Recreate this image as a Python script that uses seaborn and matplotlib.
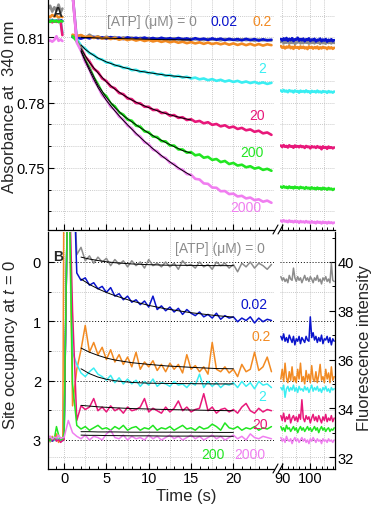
import numpy as np
import pandas as pd
import seaborn as sns
import matplotlib.pyplot as plt
from matplotlib.ticker import MultipleLocator, FixedLocator, NullFormatter
from matplotlib.lines import Line2D

sns.set_style("white")
plt.rcParams['font.family'] = ['Liberation Sans', 'DejaVu Sans']
plt.rcParams['mathtext.fontset'] = 'custom'
plt.rcParams['mathtext.it'] = 'Liberation Sans:italic'
plt.rcParams['mathtext.rm'] = 'Liberation Sans'

# ---------------- data ----------------
conc = ['0', '0.02', '0.2', '2', '20', '200', '2000']
colors = ['#8c8c8c', '#0a14cc', '#f28a22', '#3aeef2', '#e8187a', '#22e622', '#f07ef0']

# panel A : absorbance at 340 nm
t_pre = [-1.9, -1.65, -1.4, -1.15, -0.9, -0.65, -0.4, -0.2]
t_main = np.arange(1.0, 24.51, 0.5)
t_late = np.arange(89.5, 108.51, 0.5)

abs_pre = [
    [0.8230, 0.8245, 0.8218, 0.8238, 0.8222, 0.8250, 0.8215, 0.8232],
    [0.8178, 0.8172, 0.8180, 0.8174, 0.8177, 0.8171, 0.8179, 0.8175],
    [0.8198, 0.8192, 0.8203, 0.8195, 0.8200, 0.8190, 0.8197, 0.8193],
    [0.8176, 0.8180, 0.8172, 0.8178, 0.8174, 0.8181, 0.8173, 0.8120],
    [0.8172, 0.8176, 0.8169, 0.8175, 0.8171, 0.8177, 0.8170, 0.8110],
    [0.8174, 0.8171, 0.8177, 0.8172, 0.8176, 0.8170, 0.8175, 0.8173],
    [0.8082, 0.8086, 0.8080, 0.8088, 0.8105, 0.8084, 0.8090, 0.8083],
]

abs_gray = [0.8108, 0.8103, 0.8110, 0.8097, 0.8112, 0.8099, 0.8105, 0.8094,
            0.8103, 0.8097, 0.8101, 0.8093, 0.8100, 0.8095, 0.8099, 0.8091,
            0.8098, 0.8094, 0.8097, 0.8090, 0.8096, 0.8092, 0.8095, 0.8089,
            0.8096, 0.8091, 0.8093, 0.8088, 0.8094, 0.8090, 0.8092, 0.8087,
            0.8093, 0.8089, 0.8091, 0.8086, 0.8092, 0.8088, 0.8090, 0.8085,
            0.8091, 0.8087, 0.8089, 0.8084, 0.8090, 0.8086, 0.8088, 0.8085]
abs_blue = [0.8101, 0.8098, 0.8094, 0.8101, 0.8095, 0.8102, 0.8096, 0.8100,
            0.8094, 0.8101, 0.8095, 0.8099, 0.8092, 0.8100, 0.8094, 0.8098,
            0.8093, 0.8099, 0.8092, 0.8097, 0.8091, 0.8098, 0.8092, 0.8096,
            0.8090, 0.8097, 0.8091, 0.8095, 0.8089, 0.8096, 0.8090, 0.8094,
            0.8088, 0.8095, 0.8089, 0.8094, 0.8087, 0.8093, 0.8088, 0.8092,
            0.8086, 0.8093, 0.8087, 0.8092, 0.8085, 0.8091, 0.8086, 0.8089]
abs_orange = [0.8112, 0.8106, 0.8110, 0.8101, 0.8104, 0.8097, 0.8102, 0.8094,
              0.8099, 0.8092, 0.8097, 0.8089, 0.8094, 0.8087, 0.8092, 0.8085,
              0.8090, 0.8083, 0.8088, 0.8081, 0.8086, 0.8079, 0.8084, 0.8077,
              0.8082, 0.8075, 0.8080, 0.8073, 0.8078, 0.8072, 0.8077, 0.8070,
              0.8076, 0.8069, 0.8074, 0.8068, 0.8073, 0.8066, 0.8072, 0.8065,
              0.8071, 0.8064, 0.8070, 0.8063, 0.8069, 0.8062, 0.8068, 0.8064]
abs_cyan = [0.8300, 0.8094, 0.8062, 0.8048, 0.8027, 0.8020, 0.8002, 0.7998,
            0.7984, 0.7983, 0.7970, 0.7970, 0.7959, 0.7960, 0.7949, 0.7951,
            0.7941, 0.7944, 0.7935, 0.7938, 0.7929, 0.7932, 0.7923, 0.7927,
            0.7919, 0.7923, 0.7915, 0.7919, 0.7911, 0.7915, 0.7907, 0.7911,
            0.7903, 0.7908, 0.7900, 0.7905, 0.7897, 0.7902, 0.7895, 0.7900,
            0.7892, 0.7897, 0.7890, 0.7895, 0.7888, 0.7893, 0.7886, 0.7891]
abs_magenta = [0.8300, 0.8082, 0.8051, 0.8011, 0.7989, 0.7956, 0.7941, 0.7911,
               0.7899, 0.7874, 0.7866, 0.7844, 0.7839, 0.7819, 0.7816, 0.7798,
               0.7797, 0.7781, 0.7781, 0.7766, 0.7767, 0.7752, 0.7754, 0.7740,
               0.7743, 0.7730, 0.7733, 0.7720, 0.7724, 0.7712, 0.7716, 0.7705,
               0.7710, 0.7698, 0.7702, 0.7691, 0.7696, 0.7685, 0.7690, 0.7679,
               0.7684, 0.7673, 0.7677, 0.7666, 0.7671, 0.7659, 0.7663, 0.7652]
abs_green = [0.8105, 0.8082, 0.8044, 0.7993, 0.7961, 0.7916, 0.7884, 0.7846,
             0.7829, 0.7796, 0.7783, 0.7755, 0.7745, 0.7722, 0.7717, 0.7694,
             0.7690, 0.7668, 0.7664, 0.7644, 0.7642, 0.7623, 0.7622, 0.7603,
             0.7603, 0.7585, 0.7585, 0.7570, 0.7573, 0.7558, 0.7562, 0.7547,
             0.7551, 0.7537, 0.7541, 0.7527, 0.7532, 0.7518, 0.7523, 0.7511,
             0.7515, 0.7503, 0.7508, 0.7497, 0.7502, 0.7491, 0.7496, 0.7487]
abs_violet = [0.8300, 0.8076, 0.8038, 0.7986, 0.7952, 0.7904, 0.7874, 0.7834,
              0.7814, 0.7781, 0.7766, 0.7736, 0.7722, 0.7694, 0.7682, 0.7655,
              0.7644, 0.7618, 0.7609, 0.7584, 0.7576, 0.7553, 0.7546, 0.7524,
              0.7518, 0.7497, 0.7492, 0.7472, 0.7469, 0.7450, 0.7447, 0.7429,
              0.7427, 0.7410, 0.7409, 0.7393, 0.7394, 0.7380, 0.7382, 0.7369,
              0.7372, 0.7360, 0.7364, 0.7352, 0.7356, 0.7345, 0.7350, 0.7340]

abs_gray_late = [0.8078, 0.8083, 0.8072, 0.8080, 0.8075, 0.8084, 0.8071, 0.8079,
                 0.8074, 0.8082, 0.8070, 0.8078, 0.8076, 0.8083, 0.8072, 0.8077,
                 0.8073, 0.8081, 0.8075, 0.8079, 0.8071, 0.8082, 0.8074, 0.8078,
                 0.8072, 0.8080, 0.8075, 0.8077, 0.8070, 0.8081, 0.8073, 0.8078,
                 0.8071, 0.8079, 0.8074, 0.8077, 0.8072, 0.8080, 0.8074]
abs_blue_late = [0.8092, 0.8085, 0.8095, 0.8088, 0.8097, 0.8084, 0.8093, 0.8087,
                 0.8096, 0.8083, 0.8091, 0.8089, 0.8098, 0.8085, 0.8092, 0.8086,
                 0.8094, 0.8082, 0.8091, 0.8088, 0.8095, 0.8083, 0.8090, 0.8087,
                 0.8093, 0.8081, 0.8089, 0.8086, 0.8094, 0.8082, 0.8090, 0.8085,
                 0.8092, 0.8080, 0.8089, 0.8084, 0.8091, 0.8082, 0.8087]
abs_orange_late = [0.8060, 0.8052, 0.8058, 0.8049, 0.8057, 0.8053, 0.8061, 0.8050,
                   0.8056, 0.8047, 0.8059, 0.8052, 0.8055, 0.8048, 0.8058, 0.8051,
                   0.8057, 0.8049, 0.8054, 0.8046, 0.8058, 0.8051, 0.8056, 0.8048,
                   0.8055, 0.8050, 0.8057, 0.8047, 0.8054, 0.8049, 0.8056, 0.8051,
                   0.8053, 0.8046, 0.8055, 0.8049, 0.8054, 0.8047, 0.8052]
abs_cyan_late = [0.7856, 0.7850, 0.7858, 0.7851, 0.7855, 0.7848, 0.7857, 0.7852,
                 0.7854, 0.7847, 0.7856, 0.7851, 0.7853, 0.7846, 0.7855, 0.7850,
                 0.7853, 0.7848, 0.7856, 0.7849, 0.7852, 0.7845, 0.7854, 0.7850,
                 0.7852, 0.7847, 0.7855, 0.7848, 0.7851, 0.7846, 0.7853, 0.7849,
                 0.7851, 0.7845, 0.7853, 0.7848, 0.7850, 0.7846, 0.7851]
abs_magenta_late = [0.7603, 0.7596, 0.7605, 0.7597, 0.7601, 0.7594, 0.7604, 0.7598,
                    0.7600, 0.7593, 0.7603, 0.7597, 0.7600, 0.7595, 0.7602, 0.7596,
                    0.7599, 0.7592, 0.7601, 0.7596, 0.7598, 0.7590, 0.7600, 0.7595,
                    0.7598, 0.7592, 0.7600, 0.7594, 0.7597, 0.7586, 0.7599, 0.7593,
                    0.7596, 0.7588, 0.7598, 0.7592, 0.7595, 0.7590, 0.7594]
abs_green_late = [0.7414, 0.7409, 0.7416, 0.7410, 0.7413, 0.7407, 0.7415, 0.7409,
                  0.7412, 0.7406, 0.7414, 0.7408, 0.7411, 0.7405, 0.7413, 0.7408,
                  0.7410, 0.7404, 0.7412, 0.7406, 0.7409, 0.7403, 0.7411, 0.7405,
                  0.7408, 0.7402, 0.7410, 0.7404, 0.7407, 0.7401, 0.7409, 0.7403,
                  0.7406, 0.7400, 0.7408, 0.7402, 0.7405, 0.7399, 0.7404]
abs_violet_late = [0.7258, 0.7253, 0.7260, 0.7254, 0.7257, 0.7251, 0.7259, 0.7253,
                   0.7256, 0.7250, 0.7257, 0.7252, 0.7255, 0.7248, 0.7256, 0.7251,
                   0.7254, 0.7249, 0.7256, 0.7250, 0.7253, 0.7247, 0.7255, 0.7249,
                   0.7252, 0.7246, 0.7254, 0.7249, 0.7252, 0.7245, 0.7253, 0.7248,
                   0.7251, 0.7245, 0.7252, 0.7247, 0.7250, 0.7246, 0.7249]

t_fit_a = [2, 2.5, 3, 3.5, 4, 5, 6, 7, 8, 9, 10, 11, 12, 13, 14, 15]
fit_a = [
    [0.8100, 0.8099, 0.8099, 0.8098, 0.8097, 0.8096, 0.8095, 0.8094, 0.8093, 0.8092, 0.8091, 0.8090, 0.8089, 0.8089, 0.8088, 0.8088],
    [0.8065, 0.8045, 0.8030, 0.8017, 0.8005, 0.7987, 0.7973, 0.7962, 0.7952, 0.7944, 0.7938, 0.7932, 0.7926, 0.7922, 0.7918, 0.7914],
    [0.8048, 0.8015, 0.7985, 0.7960, 0.7937, 0.7895, 0.7862, 0.7835, 0.7812, 0.7793, 0.7777, 0.7763, 0.7750, 0.7739, 0.7729, 0.7720],
    [0.8040, 0.7997, 0.7958, 0.7920, 0.7880, 0.7824, 0.7778, 0.7740, 0.7712, 0.7685, 0.7660, 0.7637, 0.7617, 0.7598, 0.7580, 0.7568],
    [0.8035, 0.7990, 0.7948, 0.7908, 0.7870, 0.7810, 0.7762, 0.7718, 0.7678, 0.7640, 0.7605, 0.7572, 0.7542, 0.7514, 0.7488, 0.7465],
]

# panel B : fluorescence intensity (left axis = site occupancy at t = 0)
t_b_pre = [-1.9, -1.65, -1.4, -1.15, -0.9, -0.65, -0.4, -0.15]
t_b_main = np.arange(0.0, 24.51, 0.5)
t_b_late = np.arange(89.5, 108.51, 0.5)

fl_pre = [
    [32.70, 32.78, 32.65, 32.72, 32.80, 32.68, 32.75, 32.70],
    [32.68, 32.72, 32.66, 32.70, 32.74, 32.69, 32.71, 32.67],
    [32.75, 32.62, 32.85, 32.70, 32.95, 32.60, 32.80, 32.72],
    [32.72, 32.66, 32.78, 32.70, 32.68, 32.76, 32.69, 32.74],
    [32.66, 32.74, 32.70, 32.78, 32.65, 32.72, 32.60, 32.70],
    [32.72, 32.68, 32.80, 32.75, 33.25, 32.90, 32.70, 32.75],
    [32.80, 32.86, 32.74, 32.82, 32.78, 32.90, 32.76, 32.80],
]
fl_gray = [32.90, 45.00, 45.00, 40.30, 40.60, 40.05, 40.25, 39.95,
           40.20, 40.00, 40.15, 39.85, 40.10, 39.90, 40.05, 39.80,
           40.05, 39.85, 40.00, 39.75, 40.10, 39.85, 39.95, 39.80,
           40.00, 39.80, 39.95, 39.70, 40.05, 39.85, 39.90, 39.75,
           40.00, 39.80, 39.90, 39.70, 40.00, 39.85, 39.95, 39.75,
           39.90, 39.60, 39.95, 39.80, 40.00, 39.75, 39.95, 39.85,
           39.70, 39.90]
fl_blue = [32.80, 45.00, 45.00, 39.55, 39.25, 39.35, 39.05, 39.15,
           38.90, 39.00, 38.75, 38.95, 38.60, 38.70, 38.45, 38.60,
           38.35, 38.45, 38.25, 38.40, 38.15, 38.60, 38.05, 38.20,
           38.00, 38.15, 37.95, 38.10, 37.85, 38.05, 37.90, 37.80,
           37.95, 37.75, 37.85, 37.70, 37.90, 37.65, 37.80, 37.70,
           37.75, 37.55, 37.70, 37.60, 37.75, 37.50, 37.70, 37.55,
           37.65, 37.60]
fl_orange = [45.00, 45.00, 34.10, 35.60, 36.40, 37.40, 36.30, 36.70,
             36.20, 36.50, 36.00, 36.40, 35.90, 36.20, 35.80, 36.10,
             35.70, 36.30, 35.60, 35.90, 35.70, 35.95, 35.55, 35.80,
             35.50, 35.85, 35.60, 35.80, 35.45, 36.20, 35.60, 35.75,
             35.50, 35.70, 35.40, 36.70, 35.60, 35.50, 35.70, 35.45,
             35.60, 35.30, 35.80, 35.50, 35.60, 36.30, 35.55, 35.70,
             36.10, 35.50]
fl_cyan = [32.80, 45.00, 36.30, 35.80, 35.45, 35.30, 35.50, 35.65,
           35.40, 35.30, 35.15, 35.35, 35.05, 35.25, 35.00, 35.20,
           35.00, 35.15, 34.90, 35.10, 34.95, 35.20, 34.90, 35.05,
           35.00, 34.90, 35.10, 34.95, 35.00, 34.85, 35.05, 34.95,
           35.40, 34.85, 35.10, 34.90, 35.05, 34.85, 35.00, 34.95,
           35.05, 34.85, 35.10, 34.90, 35.05, 34.80, 35.10, 34.95,
           35.00, 34.85]
fl_magenta = [32.70, 45.00, 38.00, 33.50, 34.10, 33.95, 34.05, 34.40,
              33.90, 34.05, 33.85, 34.10, 33.90, 34.00, 33.80, 34.05,
              33.90, 33.95, 34.05, 34.40, 33.85, 34.00, 33.90, 33.80,
              34.05, 33.85, 34.00, 34.30, 33.90, 34.05, 33.85, 33.95,
              34.00, 34.60, 33.90, 34.05, 33.80, 33.95, 34.00, 33.85,
              33.95, 33.80, 34.05, 34.20, 33.90, 33.80, 34.00, 33.85,
              33.95, 33.90]
fl_green = [33.00, 45.00, 35.00, 33.30, 33.15, 33.25, 33.10, 33.20,
            33.30, 33.15, 33.20, 33.10, 33.25, 33.15, 33.30, 33.10,
            33.20, 33.25, 33.10, 33.20, 33.15, 33.30, 33.10, 33.20,
            33.15, 33.25, 33.10, 33.20, 33.30, 33.15, 33.20, 33.10,
            33.25, 33.15, 33.20, 33.35, 33.25, 33.10, 33.40, 33.20,
            33.15, 33.25, 33.10, 33.20, 33.15, 33.25, 33.10, 33.20,
            33.15, 33.25]
fl_violet = [32.80, 33.50, 33.00, 32.85, 32.75, 32.90, 32.70, 32.85,
             32.80, 32.70, 32.95, 33.10, 32.80, 32.75, 32.90, 32.70,
             32.85, 32.75, 32.80, 32.70, 32.90, 32.75, 32.85, 32.70,
             32.80, 32.90, 32.75, 32.85, 32.70, 32.80, 32.90, 32.75,
             32.85, 32.70, 32.80, 32.90, 32.75, 32.85, 32.70, 32.80,
             32.90, 32.75, 32.85, 32.70, 32.95, 32.80, 32.75, 32.85,
             32.80, 32.75]

fl_gray_late = [39.40, 39.25, 39.35, 39.20, 39.30, 39.15, 39.45, 39.30,
                39.25, 39.75, 39.35, 39.20, 39.40, 39.25, 39.35, 39.15,
                39.30, 39.45, 39.25, 39.35, 39.20, 39.40, 39.30, 39.15,
                39.35, 39.25, 39.45, 39.20, 39.30, 39.10, 39.35, 39.25,
                39.40, 39.20, 39.30, 39.15, 39.95, 39.25, 39.20]
fl_blue_late = [36.95, 36.80, 37.05, 36.75, 36.90, 36.70, 37.00, 36.85,
                36.70, 36.95, 36.60, 36.85, 36.75, 36.95, 36.65, 36.90,
                36.80, 36.70, 36.95, 36.80, 36.75, 37.75, 36.90, 37.10,
                36.80, 36.95, 36.70, 36.90, 36.75, 37.00, 36.65, 36.85,
                36.80, 36.95, 36.70, 36.90, 36.60, 36.85, 36.75]
fl_orange_late = [35.20, 35.60, 35.10, 35.85, 35.25, 35.05, 35.50, 35.15,
                  35.70, 35.10, 35.30, 35.05, 35.60, 35.20, 35.85, 35.10,
                  35.30, 35.00, 35.55, 35.15, 35.40, 35.05, 35.75, 35.20,
                  35.10, 35.50, 35.05, 35.35, 35.80, 35.15, 35.30, 35.05,
                  35.60, 35.20, 35.45, 35.05, 35.70, 35.15, 35.30]
fl_cyan_late = [34.85, 34.75, 34.95, 34.45, 34.80, 34.90, 34.70, 34.85,
                34.75, 34.95, 34.70, 34.85, 34.65, 34.90, 34.75, 34.80,
                34.70, 34.90, 34.75, 34.85, 34.65, 34.80, 34.95, 34.70,
                34.85, 34.75, 34.90, 34.70, 34.80, 34.65, 34.85, 34.75,
                34.90, 34.70, 34.80, 34.65, 34.85, 34.75, 34.80]
fl_magenta_late = [33.70, 33.50, 33.80, 33.45, 33.65, 33.55, 33.75, 33.40,
                   33.60, 33.70, 33.50, 33.65, 33.45, 33.75, 33.55, 34.35,
                   33.60, 33.45, 33.70, 33.55, 33.65, 33.40, 33.60, 33.75,
                   33.50, 33.65, 33.45, 33.70, 33.55, 33.40, 33.65, 33.50,
                   33.75, 33.45, 33.60, 33.50, 33.70, 33.45, 33.60]
fl_green_late = [33.25, 33.10, 33.20, 33.05, 33.30, 33.15, 33.20, 33.05,
                 33.15, 33.25, 33.10, 33.20, 33.00, 33.15, 33.25, 33.10,
                 33.20, 33.05, 33.15, 33.25, 33.10, 33.20, 33.05, 33.15,
                 33.25, 33.10, 33.20, 33.00, 33.15, 33.25, 33.10, 33.20,
                 33.05, 33.15, 33.20, 33.05, 33.15, 33.10, 33.20]
fl_violet_late = [32.80, 32.65, 32.75, 32.60, 32.85, 32.70, 32.65, 32.75,
                  32.55, 32.70, 32.80, 32.65, 32.75, 32.60, 32.70, 32.80,
                  32.65, 32.75, 32.60, 32.70, 32.55, 32.75, 32.65, 32.80,
                  32.70, 32.60, 32.75, 32.65, 32.70, 32.55, 32.75, 32.65,
                  32.70, 32.60, 32.75, 32.65, 32.70, 32.60, 32.70]

t_fit_b = [2, 3, 4, 5, 6, 8, 10, 12, 15, 18, 20]
fit_b = [
    [40.20, 40.12, 40.06, 40.01, 39.97, 39.92, 39.89, 39.87, 39.86, 39.85, 39.85],
    [39.30, 39.08, 38.90, 38.75, 38.62, 38.40, 38.22, 38.08, 37.92, 37.80, 37.74],
    [36.47, 36.30, 36.17, 36.06, 35.98, 35.87, 35.80, 35.74, 35.68, 35.63, 35.62],
    [35.62, 35.42, 35.28, 35.19, 35.13, 35.06, 35.03, 35.02, 35.01, 35.00, 35.00],
    [34.12, 34.09, 34.06, 34.04, 34.02, 33.99, 33.97, 33.95, 33.93, 33.91, 33.90],
    [33.04, 33.04, 33.03, 33.03, 33.03, 33.02, 33.02, 33.02, 33.02, 33.01, 33.01],
    [32.90, 32.89, 32.89, 32.88, 32.88, 32.87, 32.87, 32.86, 32.86, 32.86, 32.85],
]

occ_labels = ['0', '1', '2', '3']
fl_ticks = [32, 34, 36, 38, 40]


def traces(t, series, seg):
    parts = []
    for c, vals in zip(conc, series):
        parts.append(pd.DataFrame({'t': t, 'y': vals, 'atp': c, 'seg': seg + c}))
    return pd.concat(parts, ignore_index=True)


pal = dict(zip(conc, colors))

dfA_left = pd.concat([
    traces(t_pre, abs_pre, 'pre'),
    traces(t_main, [abs_gray, abs_blue, abs_orange, abs_cyan, abs_magenta, abs_green, abs_violet], 'main'),
], ignore_index=True)
dfA_right = traces(t_late, [abs_gray_late, abs_blue_late, abs_orange_late, abs_cyan_late,
                            abs_magenta_late, abs_green_late, abs_violet_late], 'late')
dfA_fit = pd.concat([pd.DataFrame({'t': t_fit_a, 'y': f, 'k': str(i)}) for i, f in enumerate(fit_a)])

fl_main = [fl_gray, fl_blue, fl_orange, fl_cyan, fl_magenta, fl_green, fl_violet]
dfB_left = traces(np.concatenate([t_b_pre, t_b_main]), [p + m for p, m in zip(fl_pre, fl_main)], 'b')
dfB_right = traces(t_b_late, [fl_gray_late, fl_blue_late, fl_orange_late, fl_cyan_late,
                              fl_magenta_late, fl_green_late, fl_violet_late], 'late')
dfB_fit = pd.concat([pd.DataFrame({'t': t_fit_b, 'y': f, 'k': str(i)}) for i, f in enumerate(fit_b)])

# ---------------- layout ----------------
W, H = 375, 506
fig = plt.figure(figsize=(W / 100, H / 100), dpi=100)


def px_axes(x0, y0, x1, y1):
    return fig.add_axes([x0 / W, 1 - y1 / H, (x1 - x0) / W, (y1 - y0) / H])


axA1 = px_axes(48, 0, 274, 231)
axA2 = px_axes(280, 0, 335, 231)
axB1 = px_axes(48, 233, 274, 470)
axB2 = px_axes(280, 233, 335, 470)

grid_kw = dict(color='#b8b8b8', ls=(0, (1, 1.5)), lw=0.6, zorder=0)

# occupancy scale: 0 -> 40, 3 -> 32.7
occ_pos = [40 - k * 7.3 / 3 for k in range(4)]
occ_half = [40 - k * 7.3 / 3 for k in (0.5, 1.5, 2.5)]

for ax in (axA1, axB1):
    ax.set_xlim(-1.9, 24.8)
    for xv in np.arange(0, 24, 2.5):
        ax.axvline(xv, **grid_kw)
for ax in (axA2, axB2):
    ax.set_xlim(89.2, 108.8)
    for xv in (90, 95, 100, 105):
        ax.axvline(xv, **grid_kw)

for ax in (axA1, axA2):
    ax.set_ylim(0.7215, 0.8276)
    for yv in np.arange(0.73, 0.825, 0.01):
        ax.axhline(yv, **grid_kw)
for ax in (axB1, axB2):
    ax.set_ylim(31.51, 41.23)
    for yv in occ_half + [32.0]:
        ax.axhline(yv, **grid_kw)
    for yv in occ_pos:
        ax.axhline(yv, color='black', ls=(0, (1, 2)), lw=0.7, zorder=0.5)

# traces
line_kw = dict(x='t', y='y', hue='atp', units='seg', estimator=None, palette=pal,
               hue_order=conc, legend=False)
sns.lineplot(data=dfA_left, lw=1.9, ax=axA1, **line_kw)
sns.lineplot(data=dfA_right, lw=1.9, ax=axA2, **line_kw)
sns.lineplot(data=dfB_left, lw=1.1, ax=axB1, **line_kw)
sns.lineplot(data=dfB_right, lw=1.1, ax=axB2, **line_kw)
sns.lineplot(data=dfA_fit, x='t', y='y', units='k', estimator=None, color='black', lw=0.7, ax=axA1)
sns.lineplot(data=dfB_fit, x='t', y='y', units='k', estimator=None, color='black', lw=0.7, ax=axB1)

# axes styling
for ax in (axA1, axA2, axB1, axB2):
    ax.set_xlabel('')
    ax.set_ylabel('')
    for s in ax.spines.values():
        s.set_color('black')
        s.set_linewidth(0.9)
    ax.spines['top'].set_visible(False)
    ax.spines['right'].set_visible(False)
    ax.tick_params(which='both', direction='in', colors='black', labelsize=10.5,
                   top=False, right=False, left=False, bottom=True)
    ax.tick_params(which='major', length=4, width=0.8)
    ax.tick_params(which='minor', length=2, width=0.7)
    ax.patch.set_alpha(0)

for ax in (axA1, axB1):
    ax.xaxis.set_major_locator(MultipleLocator(5))
    ax.xaxis.set_minor_locator(MultipleLocator(1))
    ax.tick_params(axis='y', which='both', left=True)
for ax in (axA2, axB2):
    ax.spines['left'].set_visible(False)
    ax.xaxis.set_major_locator(FixedLocator([90, 100]))
    ax.xaxis.set_minor_locator(MultipleLocator(2))
    ax.set_yticks([])

axA1.set_yticks([0.75, 0.78, 0.81])
axA1.set_yticklabels(['0.75', '0.78', '0.81'])
axA1.yaxis.set_minor_locator(MultipleLocator(0.01))
axA1.tick_params(axis='y', pad=2)
axA1.xaxis.set_major_formatter(NullFormatter())
axA2.xaxis.set_major_formatter(NullFormatter())

axB1.set_yticks(occ_pos)
axB1.set_yticklabels(occ_labels)
axB1.yaxis.set_minor_locator(FixedLocator(occ_half))
axB1.tick_params(axis='y', pad=5)
axB1.tick_params(axis='x', pad=1.5)
axB2.tick_params(axis='x', pad=1.5)
axB1.set_xticks([0, 5, 10, 15, 20])

axB2.spines['right'].set_visible(True)
axB2.yaxis.tick_right()
axB2.set_yticks(fl_ticks)
axB2.yaxis.set_minor_locator(MultipleLocator(1))
axB2.tick_params(axis='y', which='both', right=True, left=False, direction='in', pad=2)

# panel texts
txt = dict(fontsize=10, va='center')
axA1.text(0.044, 0.944, 'A', transform=axA1.transAxes, fontweight='bold', ha='center', fontsize=10, va='center')
axA1.text(0.261, 0.905, '[ATP] (\u03bcM) = 0', color=colors[0], transform=axA1.transAxes, ha='left', **txt)
axA1.text(0.721, 0.905, '0.02', color=colors[1], transform=axA1.transAxes, ha='left', **txt)
axA1.text(0.903, 0.905, '0.2', color=colors[2], transform=axA1.transAxes, ha='left', **txt)
axA1.text(0.947, 0.701, '2', color=colors[3], transform=axA1.transAxes, ha='center', **txt)
axA1.text(0.925, 0.498, '20', color=colors[4], transform=axA1.transAxes, ha='center', **txt)
axA1.text(0.903, 0.338, '200', color=colors[5], transform=axA1.transAxes, ha='center', **txt)
axA1.text(0.876, 0.100, '2000', color=colors[6], transform=axA1.transAxes, ha='center', **txt)

axB1.text(0.044, 0.899, 'B', transform=axB1.transAxes, fontweight='bold', ha='center', fontsize=10, va='center')
axB1.text(0.562, 0.932, '[ATP] (\u03bcM) = 0', color=colors[0], transform=axB1.transAxes, ha='left', **txt)
axB1.text(0.912, 0.696, '0.02', color=colors[1], transform=axB1.transAxes, ha='center', **txt)
axB1.text(0.942, 0.561, '0.2', color=colors[2], transform=axB1.transAxes, ha='center', **txt)
axB1.text(0.947, 0.308, '2', color=colors[3], transform=axB1.transAxes, ha='center', **txt)
axB1.text(0.938, 0.190, '20', color=colors[4], transform=axB1.transAxes, ha='center', **txt)
axB1.text(0.730, 0.063, '200', color=colors[5], transform=axB1.transAxes, ha='center', **txt)
axB1.text(0.894, 0.063, '2000', color=colors[6], transform=axB1.transAxes, ha='center', **txt)

# axis titles
fig.text(10 / W, 1 - 107 / H, 'Absorbance at  340 nm', rotation=90, ha='center', va='center', fontsize=12)
fig.text(11 / W, 1 - 345 / H, 'Site occupancy at $t$ = 0', rotation=90, ha='center', va='center', fontsize=12)
fig.text(364 / W, 1 - 348 / H, 'Fluorescence intensity', rotation=90, ha='center', va='center', fontsize=12)
fig.text(186 / W, 1 - 497 / H, 'Time (s)', ha='center', va='center', fontsize=12)

# axis break marks
for yb in (231, 470):
    for xb in (273, 278):
        fig.add_artist(Line2D([xb / W, (xb + 5) / W], [1 - (yb + 4) / H, 1 - (yb - 5) / H],
                              color='black', lw=0.8))

fig.savefig('out.png', dpi=100)
